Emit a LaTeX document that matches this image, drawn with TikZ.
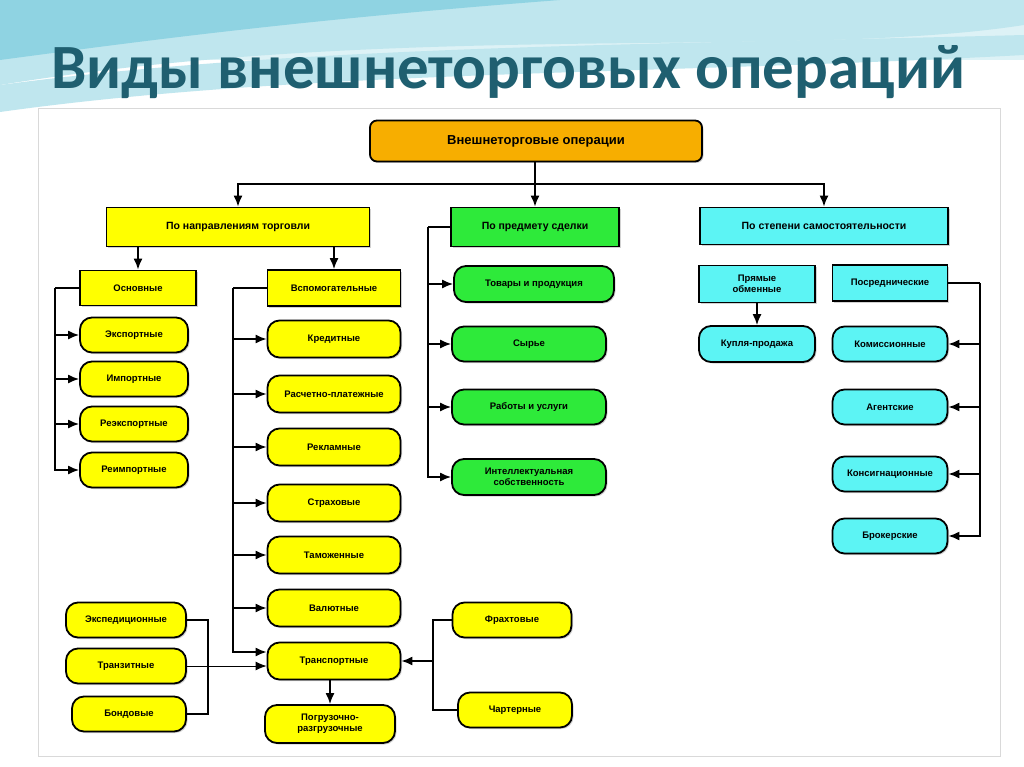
\documentclass[tikz,border=0pt]{standalone}
\usepackage{fontspec}
\setmainfont{Liberation Sans}
\newfontfamily\titlefont{Carlito}
\usetikzlibrary{arrows.meta,shadows,calc}
\definecolor{yel}{HTML}{FFFF00}
\definecolor{grn}{HTML}{2EEA3A}
\definecolor{cyn}{HTML}{5CF4F4}
\definecolor{org}{HTML}{F7AE00}
\definecolor{ttl}{HTML}{1F5F70}
\definecolor{wv1}{HTML}{BFE6EE}
\definecolor{wv2}{HTML}{8FD3E2}
\definecolor{wv3}{HTML}{DDF2F6}
\tikzset{
 bx/.style={draw, line width=1.8pt, align=center, inner sep=1pt, font=\bfseries\fontsize{9.5}{11}\selectfont,
   drop shadow={shadow xshift=1.5pt, shadow yshift=-1.5pt, opacity=0.35}},
 rb/.style={bx, rounded corners=12pt},
 ln/.style={line width=1.6pt},
 arr/.style={ln, -{Latex[length=11pt,width=9pt]}},
}
\begin{document}
\begin{tikzpicture}[x=1pt,y=-1pt]
\useasboundingbox (0,0) rectangle (1024,767);
% background
\fill[white] (0,0) rectangle (1024,767);
\fill[wv3] (0,0) rectangle (1024,60);
\fill[wv1] (0,0) -- (1024,0) -- (1024,25) .. controls (800,60) and (400,20) .. (0,85) -- cycle;
\fill[wv2] (0,0) -- (560,0) .. controls (300,20) and (150,40) .. (0,60) -- cycle;
\fill[wv1] (0,85) .. controls (300,45) and (650,45) .. (1024,35) -- (1024,55) .. controls (650,75) and (300,70) .. (0,112) -- cycle;
\fill[white] (38,108) rectangle (1000,756);
\draw[gray!30] (38,108) rectangle (1000,756);
\node[font=\titlefont\bfseries\fontsize{63}{66}\selectfont, text=ttl, anchor=west] (title) at (48,72) {Виды внешнеторговых операций};
% top
\node[rb, fill=org, rounded corners=7pt, minimum width=332, minimum height=41, font=\bfseries\fontsize{13}{15}\selectfont] (root) at (536,141) {Внешнеторговые операции};
\node[bx, fill=yel, minimum width=263, minimum height=39, font=\bfseries\fontsize{10.5}{12}\selectfont] (d1) at (238,227) {По направлениям торговли};
\node[bx, fill=grn, minimum width=168, minimum height=39, font=\bfseries\fontsize{10.5}{12}\selectfont] (d2) at (535,227) {По предмету сделки};
\node[bx, fill=cyn, minimum width=248, minimum height=37, font=\bfseries\fontsize{10.5}{12}\selectfont] (d3) at (824,226) {По степени самостоятельности};
\coordinate (h) at (535,184);
\draw[ln] (root.south -| h) -- (h);
\draw[arr] (h) -| (d1.north);
\draw[arr] (h) -- (d2.north);
\draw[arr] (h) -| (d3.north);
% yellow
\node[bx, fill=yel, minimum width=116, minimum height=35] (osn) at (138,288) {Основные};
\node[bx, fill=yel, minimum width=133, minimum height=36] (vsp) at (334,288) {Вспомогательные};
\draw[arr] (d1.south -| osn.north) -- (osn.north);
\draw[arr] (d1.south -| vsp.north) -- (vsp.north);
\foreach \n/\y/\t in {exp/335/Экспортные, imp/379/Импортные, reexp/424/Реэкспортные, reimp/470/Реимпортные}
  \node[rb, fill=yel, minimum width=108, minimum height=35] (\n) at (134,\y) {\t};
\coordinate (t1) at (55,288);
\draw[ln] (osn.west) -- (t1);
\foreach \n in {exp,imp,reexp,reimp} \draw[arr] (t1) |- (\n.west);
\foreach \n/\y/\t in {kred/339/Кредитные, rasch/394/Расчетно-платежные, rekl/447/Рекламные, strah/503/Страховые, tam/555/Таможенные, val/608/Валютные, trans/661/Транспортные}
  \node[rb, fill=yel, minimum width=133, minimum height=37] (\n) at (334,\y) {\t};
\node[rb, fill=yel, minimum width=130, minimum height=38] (pogr) at (330,724) {Погрузочно-\\разгрузочные};
\coordinate (t2) at (233,288);
\draw[ln] (vsp.west) -- (t2);
\foreach \n in {kred,rasch,rekl,strah,tam,val} \draw[arr] (t2) |- (\n.west);
\draw[arr] (t2) |- ($(trans.west)+(0,-9)$);
\draw[arr] (trans.south -| pogr.north) -- (pogr.north);
\node[rb, fill=yel, minimum width=120, minimum height=35] (exped) at (126,620) {Экспедиционные};
\node[rb, fill=yel, minimum width=120, minimum height=35] (tranz) at (126,666) {Транзитные};
\node[rb, fill=yel, minimum width=114, minimum height=35] (bond) at (129,714) {Бондовые};
\coordinate (t3) at (208,620);
\draw[ln] (exped.east) -- (t3) |- (bond.east);
\draw[arr, line width=1pt] (tranz.east) -- (tranz.east -| trans.west);
\node[rb, fill=yel, minimum width=119, minimum height=35] (fraht) at (512,620) {Фрахтовые};
\node[rb, fill=yel, minimum width=114, minimum height=35] (chart) at (515,710) {Чартерные};
\coordinate (t4) at (433,620);
\draw[ln] (fraht.west) -- (t4) |- (chart.west);
\draw[arr] (t4 |- trans.east) -- (trans.east);
% green
\node[rb, fill=grn, minimum width=160, minimum height=36] (tov) at (534,284) {Товары и продукция};
\node[rb, fill=grn, minimum width=154, minimum height=35] (syr) at (529,344) {Сырье};
\node[rb, fill=grn, minimum width=154, minimum height=35] (rab) at (529,407) {Работы и услуги};
\node[rb, fill=grn, minimum width=154, minimum height=36] (int) at (529,477) {Интеллектуальная\\собственность};
\coordinate (t5) at (428,227);
\draw[ln] (d2.west) -- (t5);
\foreach \n in {tov,syr,rab,int} \draw[arr] (t5) |- (\n.west);
% cyan
\node[bx, fill=cyn, minimum width=116, minimum height=37] (pryam) at (757,284) {Прямые\\обменные};
\node[rb, fill=cyn, minimum width=116, minimum height=36] (kupl) at (757,344) {Купля-продажа};
\draw[arr] (pryam.south) -- (kupl.north);
\node[bx, fill=cyn, minimum width=115, minimum height=36] (posr) at (890,283) {Посреднические};
\foreach \n/\y/\t in {kom/344/Комиссионные, ag/407/Агентские, kons/474/Консигнационные, brok/536/Брокерские}
  \node[rb, fill=cyn, minimum width=115, minimum height=35] (\n) at (890,\y) {\t};
\coordinate (t6) at (980,283);
\draw[ln] (posr.east) -- (t6);
\foreach \n in {kom,ag,kons,brok} \draw[arr] (t6) |- (\n.east);
\end{tikzpicture}
\end{document}
